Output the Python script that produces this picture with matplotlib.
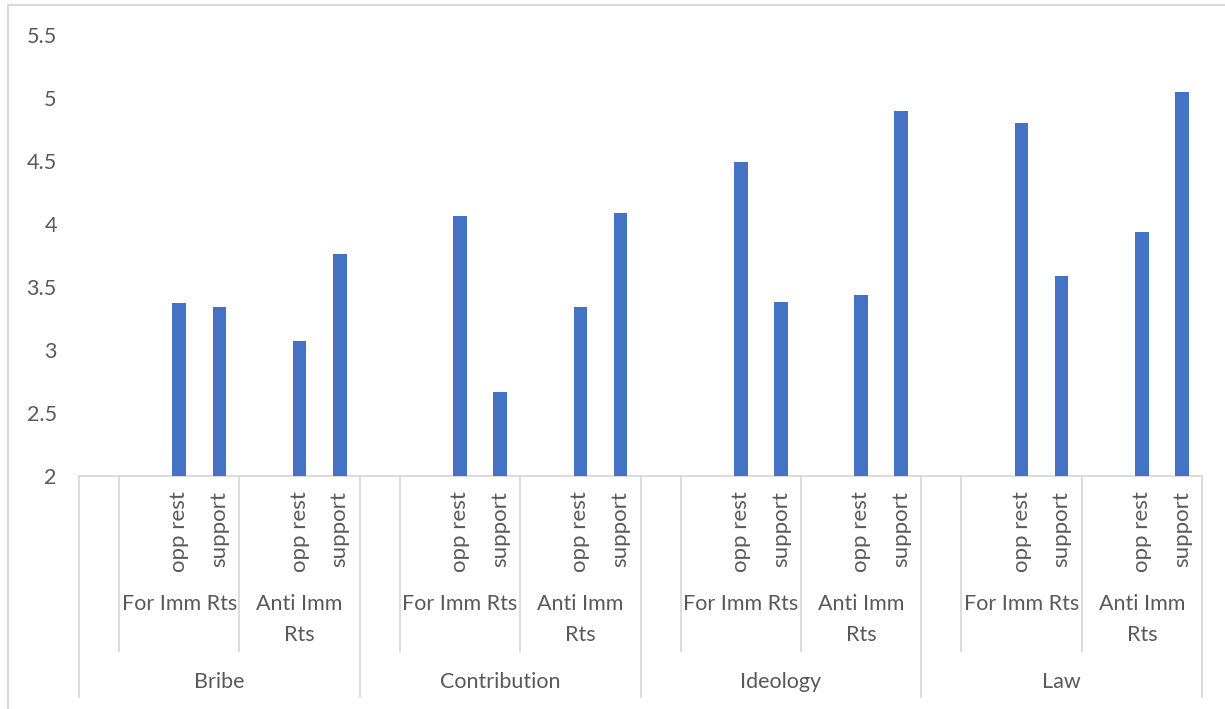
import matplotlib
matplotlib.use('Agg')
import matplotlib.pyplot as plt
from matplotlib.patches import Rectangle
from matplotlib.transforms import blended_transform_factory

groups = ['Bribe', 'Contribution', 'Ideology', 'Law']
subgroups = ['For Imm Rts', 'Anti Imm\nRts']
leaves = ['opp rest', 'support']

# values per group: [For opp rest, For support, Anti opp rest, Anti support]
bribe = [3.37, 3.34, 3.07, 3.76]
contribution = [4.06, 2.67, 3.34, 4.09]
ideology = [4.49, 3.38, 3.44, 4.90]
law = [4.80, 3.59, 3.94, 5.05]
values = [bribe, contribution, ideology, law]

W, H = 1225, 709
BLUE = '#4472C4'
GRID = '#D9D9D9'
TXT = '#595959'
FS = 15.5
plt.rcParams['font.family'] = ['Lato', 'DejaVu Sans']

fig = plt.figure(figsize=(W / 100, H / 100), dpi=100)
ax = fig.add_axes([79 / W, (H - 476) / H, (1202 - 79) / W, (476 - 35) / H])

# leaf slots: 1 blank per group, then per subgroup 1 blank + 2 leaves
n_slots = len(groups) * (1 + len(subgroups) * (1 + len(leaves)))
xs, ys, labels = [], [], []
for g, vals in enumerate(values):
    for s in range(len(subgroups)):
        for l in range(len(leaves)):
            xs.append(7 * g + 3 * s + 2 + l)
            ys.append(vals[2 * s + l])
            labels.append(leaves[l])

ax.bar(xs, ys, width=0.34, color=BLUE, zorder=3)
ax.set_xlim(-0.5, n_slots - 0.5)
ax.set_ylim(2, 5.5)
ax.set_yticks([2, 2.5, 3, 3.5, 4, 4.5, 5, 5.5])
ax.set_yticklabels(['2', '2.5', '3', '3.5', '4', '4.5', '5', '5.5'])
ax.tick_params(axis='y', length=0, pad=16, labelsize=FS, labelcolor=TXT)
ax.set_xticks([])
for sp in ['top', 'right', 'left']:
    ax.spines[sp].set_visible(False)
ax.spines['bottom'].set_color(GRID)
ax.spines['bottom'].set_linewidth(1.3)

tr = blended_transform_factory(ax.transData, fig.transFigure)


def fy(p):
    return (H - p) / H


# leaf labels
for x, lab in zip(xs, labels):
    ax.text(x, fy(491), lab, transform=tr, rotation=90, ha='center', va='top',
            fontsize=16, color=TXT)

# subgroup and group labels
for g, name in enumerate(groups):
    ax.text(7 * g + 3, fy(682), name, transform=tr, ha='center', va='center',
            fontsize=FS, color=TXT)
    for s, sname in enumerate(subgroups):
        ax.text(7 * g + 3 * s + 2, fy(594), sname, transform=tr, ha='center',
                va='top', fontsize=FS, color=TXT, linespacing=1.7)

# separator lines under the axis
for g in range(len(groups) + 1):
    ax.plot([7 * g - 0.5] * 2, [fy(476), fy(697)], transform=tr, color=GRID,
            lw=1.3, clip_on=False)
for g in range(len(groups)):
    for b in (0.5, 3.5):
        ax.plot([7 * g + b] * 2, [fy(476), fy(651)], transform=tr, color=GRID,
                lw=1.3, clip_on=False)

fig.patches.append(Rectangle((8 / W, -0.1), 1.2, (H - 5) / H + 0.1,
                             transform=fig.transFigure, fill=False,
                             edgecolor=GRID, lw=1.5))

fig.savefig('out.png', dpi=100)
